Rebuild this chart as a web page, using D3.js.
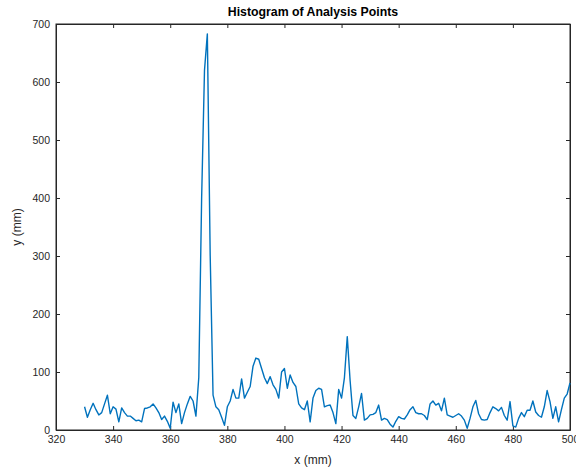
<!DOCTYPE html>
<html><head><meta charset="utf-8">
<script src="https://cdn.jsdelivr.net/npm/d3@7"></script>
<style>body{margin:0;background:#fff}svg{display:block}text{font-family:"Liberation Sans",Arial,Helvetica,sans-serif}</style>
</head><body><div id="chart"></div>
<script>
const xStart = 330;
const yValues = [
40,22,35,46,35,26,30,45,60,28,
40,36,14,38,30,24,24,20,16,17,
14,37,38,40,45,38,30,18,24,15,
3,48,30,45,11,30,45,58,50,24,
90,400,620,683,300,60,40,35,22,8,
40,50,70,55,55,88,55,65,75,110,
124,122,106,90,80,92,78,70,55,100,
106,72,95,82,75,45,38,35,50,14,
55,68,72,70,40,42,43,30,11,70,
55,90,161,85,25,20,40,63,17,20,
26,27,30,43,17,20,18,10,5,15,
23,20,19,26,35,40,30,28,28,25,
18,45,50,43,46,33,55,26,24,22,
25,28,24,17,3,20,40,51,28,18,
17,18,30,40,37,33,39,25,17,49,
7,5,20,30,23,34,34,50,31,25,
22,40,68,49,20,40,14,35,55,62,
81];
const xTicks = [320,340,360,380,400,420,440,460,480,500];
const yTicks = [0,100,200,300,400,500,600,700];
const titleText = "Histogram of Analysis Points";
const xLabel = "x (mm)";
const yLabel = "y (mm)";

const data = yValues.map((v,i)=>({x:xStart+i,y:v}));
const W=576,H=469, L=56,R=570,T=24,B=430;
const svg=d3.select("#chart").append("svg").attr("width",W).attr("height",H);
const x=d3.scaleLinear().domain([320,500]).range([L,R]);
const y=d3.scaleLinear().domain([0,700]).range([B,T]);
const axCol="#262626";
const tl=4;

svg.append("rect").attr("x",L).attr("y",T).attr("width",R-L).attr("height",B-T)
  .attr("fill","#fff").attr("stroke",axCol).attr("stroke-width",1);

const xa=svg.append("g").attr("transform",`translate(0,${B})`)
  .call(d3.axisBottom(x).tickValues(xTicks).tickSizeInner(-tl).tickSizeOuter(0).tickPadding(6));
const xt=svg.append("g").attr("transform",`translate(0,${T})`)
  .call(d3.axisTop(x).tickValues(xTicks).tickSizeInner(-tl).tickSizeOuter(0).tickFormat(""));
const ya=svg.append("g").attr("transform",`translate(${L},0)`)
  .call(d3.axisLeft(y).tickValues(yTicks).tickSizeInner(-tl).tickSizeOuter(0).tickPadding(6));
const yr=svg.append("g").attr("transform",`translate(${R},0)`)
  .call(d3.axisRight(y).tickValues(yTicks).tickSizeInner(-tl).tickSizeOuter(0).tickFormat(""));
[xa,xt,ya,yr].forEach(g=>{
  g.select(".domain").attr("stroke",axCol);
  g.selectAll(".tick line").attr("stroke",axCol);
  g.selectAll(".tick text").attr("fill",axCol).style("font-size","10.5px")
   .style("font-family",'"Liberation Sans",Arial,sans-serif');
});

svg.append("path").datum(data)
  .attr("fill","none").attr("stroke","#0072BD").attr("stroke-width",1.4)
  .attr("stroke-linejoin","round")
  .attr("d",d3.line().x(d=>x(d.x)).y(d=>y(d.y)));

svg.append("text").attr("x",(L+R)/2).attr("y",16).attr("text-anchor","middle")
  .style("font-size","12.3px").style("font-weight","bold").attr("fill","#000").text(titleText);
svg.append("text").attr("x",(L+R)/2).attr("y",464).attr("text-anchor","middle")
  .style("font-size","12px").attr("fill",axCol).text(xLabel);
svg.append("text").attr("transform",`translate(21,${(T+B)/2}) rotate(-90)`).attr("text-anchor","middle")
  .style("font-size","12px").attr("fill",axCol).text(yLabel);
</script></body></html>
